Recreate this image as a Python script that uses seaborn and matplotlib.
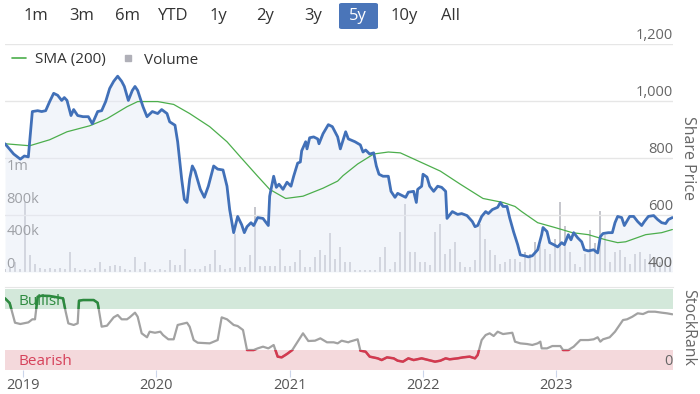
"""
Share price, SMA(200), volume and StockRank - 5y view
"""

import numpy as np
import matplotlib
matplotlib.use("Agg")
import matplotlib.pyplot as plt
from matplotlib.lines import Line2D
from matplotlib.patches import Rectangle, FancyBboxPatch
import seaborn as sns

sns.set_style("white")
plt.rcParams['font.family'] = ['Open Sans', 'DejaVu Sans']

# ===== DATA (time as decimal years) =====
price_t = [2018.865, 2018.93, 2018.98, 2019.01, 2019.04, 2019.07, 2019.11, 2019.14, 2019.17, 2019.20,
           2019.23, 2019.26, 2019.29, 2019.31, 2019.33, 2019.36, 2019.38, 2019.41, 2019.45, 2019.49,
           2019.52, 2019.56, 2019.59, 2019.62, 2019.65, 2019.68, 2019.71, 2019.74, 2019.76, 2019.79,
           2019.82, 2019.84, 2019.86, 2019.90, 2019.93, 2019.97, 2020.01, 2020.04, 2020.08, 2020.10,
           2020.14, 2020.16, 2020.19, 2020.21, 2020.23, 2020.25, 2020.27, 2020.29, 2020.33, 2020.36,
           2020.39, 2020.43, 2020.46, 2020.50, 2020.53, 2020.55, 2020.58, 2020.61, 2020.64, 2020.66,
           2020.68, 2020.71, 2020.73, 2020.76, 2020.80, 2020.84, 2020.85, 2020.88, 2020.90, 2020.92,
           2020.95, 2020.98, 2021.01, 2021.03, 2021.06, 2021.08, 2021.09, 2021.12, 2021.13, 2021.15,
           2021.18, 2021.21, 2021.22, 2021.25, 2021.29, 2021.32, 2021.36, 2021.38, 2021.42, 2021.44,
           2021.49, 2021.53, 2021.55, 2021.57, 2021.60, 2021.63, 2021.65, 2021.67, 2021.70, 2021.74,
           2021.76, 2021.79, 2021.81, 2021.87, 2021.89, 2021.93, 2021.95, 2021.96, 2021.99, 2022.00,
           2022.03, 2022.05, 2022.08, 2022.11, 2022.14, 2022.17, 2022.18, 2022.22, 2022.26, 2022.29,
           2022.33, 2022.37, 2022.39, 2022.41, 2022.44, 2022.47, 2022.49, 2022.52, 2022.56, 2022.58,
           2022.60, 2022.63, 2022.65, 2022.68, 2022.71, 2022.73, 2022.76, 2022.79, 2022.82, 2022.86,
           2022.89, 2022.90, 2022.93, 2022.95, 2022.98, 2023.01, 2023.04, 2023.06, 2023.09, 2023.11,
           2023.13, 2023.16, 2023.19, 2023.21, 2023.24, 2023.28, 2023.31, 2023.33, 2023.35, 2023.39,
           2023.42, 2023.44, 2023.46, 2023.49, 2023.51, 2023.55, 2023.58, 2023.61, 2023.64, 2023.66,
           2023.69, 2023.73, 2023.76, 2023.79, 2023.82, 2023.84, 2023.87]
price = [850, 814, 796, 807, 804, 963, 966, 963, 966, 998,
         1027, 1020, 1002, 1012, 1002, 949, 970, 949, 945, 945,
         920, 963, 966, 998, 1044, 1069, 1087, 1069, 1051, 1002,
         1037, 1051, 1037, 980, 945, 963, 956, 970, 956, 927,
         915, 857, 726, 655, 644, 726, 772, 754, 690, 662,
         701, 772, 761, 758, 701, 619, 538, 595, 566, 538,
         559, 573, 563, 591, 588, 563, 666, 736, 697, 708,
         690, 715, 701, 736, 782, 786, 825, 857, 832, 871,
         874, 867, 850, 885, 917, 910, 874, 832, 892, 867,
         857, 846, 821, 828, 814, 818, 772, 743, 736, 736,
         683, 662, 676, 662, 680, 683, 644, 690, 701, 743,
         733, 701, 683, 701, 697, 683, 588, 612, 602, 605,
         598, 577, 559, 563, 595, 612, 605, 619, 627, 644,
         630, 630, 590, 540, 496, 460, 457, 453, 457, 478,
         531, 556, 542, 503, 496, 488, 503, 496, 531, 513,
         538, 520, 506, 478, 474, 478, 467, 524, 535, 538,
         538, 573, 595, 591, 563, 595, 595, 577, 563, 577,
         595, 598, 584, 573, 570, 584, 591]

sma_t = [2018.865, 2019.05, 2019.20, 2019.33, 2019.50, 2019.63, 2019.78, 2019.86, 2020.01, 2020.13,
         2020.25, 2020.40, 2020.53, 2020.63, 2020.76, 2020.85, 2020.97, 2021.10, 2021.25, 2021.36,
         2021.40, 2021.51, 2021.63, 2021.74, 2021.83, 2021.98, 2022.13, 2022.28, 2022.45, 2022.60,
         2022.69, 2022.74, 2022.86, 2022.99, 2023.12, 2023.24, 2023.37, 2023.46, 2023.52, 2023.67,
         2023.79, 2023.87]
sma = [850, 843, 864, 892, 913, 938, 980, 998, 998, 988,
       956, 910, 857, 804, 736, 690, 658, 666, 694, 719,
       738, 779, 814, 821, 818, 786, 754, 708, 658, 644,
       630, 612, 573, 556, 538, 531, 513, 503, 506, 531,
       538, 549]

# volume in thousands, roughly fortnightly bars
volume_k = [37, 49, 122, 37, 857, 208, 98, 49, 37, 49,
            37, 49, 37, 245, 49, 24, 37, 24, 49, 122,
            37, 74, 86, 74, 37, 24, 184, 37, 122, 37,
            24, 37, 24, 147, 86, 86, 282, 37, 37, 37,
            74, 98, 269, 86, 37, 49, 465, 61, 61, 208,
            796, 74, 74, 74, 74, 282, 74, 74, 122, 269,
            61, 61, 184, 269, 208, 477, 159, 306, 122, 122,
            24, 24, 24, 24, 24, 184, 306, 37, 122, 490,
            832, 245, 245, 122, 122, 86, 490, 588, 220, 282,
            367, 122, 61, 61, 147, 588, 404, 269, 208, 98,
            122, 159, 159, 122, 245, 220, 367, 330, 282, 220,
            404, 857, 563, 245, 98, 61, 220, 514, 355, 747,
            453, 122, 245, 269, 184, 98, 220, 245, 159, 220,
            184, 122, 147, 184]
vol_t = 2018.865 + 0.0375 * np.arange(len(volume_k))

rank_t = [2018.865, 2018.90, 2018.94, 2018.98, 2019.04, 2019.07, 2019.09, 2019.11, 2019.14, 2019.20,
          2019.26, 2019.30, 2019.32, 2019.34, 2019.38, 2019.41, 2019.42, 2019.45, 2019.53, 2019.56,
          2019.59, 2019.63, 2019.68, 2019.71, 2019.74, 2019.78, 2019.80, 2019.84, 2019.86, 2019.89,
          2019.93, 2019.95, 2019.99, 2020.03, 2020.05, 2020.09, 2020.13, 2020.16, 2020.19, 2020.23,
          2020.25, 2020.28, 2020.31, 2020.40, 2020.46, 2020.49, 2020.53, 2020.58, 2020.61, 2020.65,
          2020.68, 2020.73, 2020.76, 2020.80, 2020.84, 2020.88, 2020.91, 2020.94, 2020.98, 2021.02,
          2021.06, 2021.10, 2021.14, 2021.19, 2021.23, 2021.28, 2021.33, 2021.36, 2021.39, 2021.44,
          2021.45, 2021.51, 2021.53, 2021.57, 2021.60, 2021.66, 2021.69, 2021.73, 2021.78, 2021.81,
          2021.85, 2021.89, 2021.93, 2021.99, 2022.04, 2022.09, 2022.13, 2022.17, 2022.20, 2022.26,
          2022.30, 2022.35, 2022.39, 2022.41, 2022.44, 2022.47, 2022.50, 2022.53, 2022.56, 2022.60,
          2022.67, 2022.69, 2022.73, 2022.78, 2022.82, 2022.86, 2022.88, 2022.89, 2022.93, 2022.97,
          2023.03, 2023.05, 2023.09, 2023.13, 2023.18, 2023.24, 2023.28, 2023.31, 2023.33, 2023.35,
          2023.40, 2023.44, 2023.50, 2023.53, 2023.57, 2023.61, 2023.65, 2023.69, 2023.74, 2023.79,
          2023.83, 2023.87]
stockrank = [88.5, 82.7, 58.4, 56.8, 58.8, 62.6, 62.6, 90.5, 91.7, 91.4,
             89.7, 88.5, 72, 57.6, 55.6, 57.6, 85.6, 86.4, 86.4, 83,
             53.5, 54.7, 65, 67.9, 62.6, 62.6, 65, 70.8, 65.8, 45.3,
             40.4, 47.3, 46, 47.3, 43.2, 37.9, 37.9, 55.6, 56.8, 58.4,
             53.5, 37, 33.7, 32.9, 37, 65, 62.6, 55.6, 54.3, 49.4,
             24.7, 24.7, 26.7, 28.8, 26.7, 30.9, 16.5, 15.6, 19.8, 24.7,
             35, 45.3, 35.8, 36.2, 39.1, 34.2, 34.2, 32.9, 36.2, 34.2,
             35, 37.9, 23.9, 22.6, 16.5, 14.4, 12.3, 15.6, 14.4, 11.5,
             10.3, 14.4, 12.3, 14.4, 12.3, 10.3, 11.5, 14.4, 13.2, 14.4,
             15.6, 16.5, 14.4, 18.5, 37, 43.2, 45.3, 42, 47.3, 44.4,
             46, 35, 32.9, 32.1, 30.9, 32.9, 35, 26.7, 26.7, 29.6,
             29.6, 24.7, 24.7, 28.8, 37, 37, 37.9, 40.4, 35, 37.9,
             40.4, 47.3, 61.7, 62.6, 65.8, 70, 69.1, 72, 72, 70.8,
             70, 68.8]

price_ticks = [400, 600, 800, 1000, 1200]
price_tick_labels = ['400', '600', '800', '1,000', '1,200']
vol_ticks = [0, 400, 800, 1200]
vol_tick_labels = ['0', '400k', '800k', '1m']
year_ticks = [2019, 2020, 2021, 2022, 2023]
range_buttons = ['1m', '3m', '6m', 'YTD', '1y', '2y', '3y', '5y', '10y', 'All']
selected_button = '5y'

# ===== LAYOUT (pixel boxes -> figure fractions) =====
W, H = 700, 394
fig = plt.figure(figsize=(7, 3.94), dpi=100)


def box(x0, y0, x1, y1):
    return [x0 / W, 1 - y1 / H, (x1 - x0) / W, (y1 - y0) / H]


XMIN, XMAX = 2018.865, 2023.875
TXT = '#333333'
LBL = '#666666'

ax_vol = fig.add_axes(box(5, 44, 673, 272))
ax = fig.add_axes(box(5, 44, 673, 272), sharex=ax_vol)
ax_rank = fig.add_axes(box(5, 287, 673, 370), sharex=ax_vol)
ax.patch.set_visible(False)

# volume bars (behind the price)
ax_vol.bar(vol_t, volume_k, width=0.022, color='#c6c7cd', linewidth=0)
ax_vol.set_ylim(0, 2790)
for v, lab in zip(vol_ticks, vol_tick_labels):
    ax_vol.text(0.002, v, lab, transform=ax_vol.get_yaxis_transform(),
                ha='left', va='bottom', fontsize=10.5, color=LBL)

# price + SMA
ax.fill_between(price_t, price, 400, color='#e4eaf6', alpha=0.45, linewidth=0)
sns.lineplot(x=sma_t, y=sma, ax=ax, color='#4cae4c', linewidth=0.9)
sns.lineplot(x=price_t, y=price, ax=ax, color='#4170b8', linewidth=2.0)
ax.set_ylim(400, 1200)
ax.set_yticks(price_ticks)
ax.grid(axis='y', color='#e6e6e6', linewidth=1)
ax.grid(axis='x', visible=False)
for v, lab in zip(price_ticks, price_tick_labels):
    ax.text(1.0, v + 3, lab, transform=ax.get_yaxis_transform(),
            ha='right', va='bottom', fontsize=10.5, color=LBL)

handles = [Line2D([], [], color='#4cae4c', lw=1.2),
           Line2D([], [], color='#b0b0b8', marker='s', ls='', markersize=5)]
fig.legend(handles, ['SMA (200)', 'Volume'], loc='center left',
           bbox_to_anchor=(12 / W, 1 - 60 / H), frameon=False, ncol=2,
           fontsize=11, handlelength=0.9, handletextpad=0.6, columnspacing=1.0,
           borderpad=0, borderaxespad=0, labelcolor=TXT)

# StockRank panel
ax_rank.axhspan(75, 100, color='#d3e8da', linewidth=0)
ax_rank.axhspan(0, 25, color='#f4d9dc', linewidth=0)
sns.lineplot(x=rank_t, y=stockrank, ax=ax_rank, color='#a2a2a2', linewidth=1.6)
for lo, hi, col in [(75, 110, '#2b8a3e'), (-10, 25, '#d4394f')]:
    seg, = ax_rank.plot(rank_t, stockrank, color=col, linewidth=1.8)
    seg.set_clip_path(Rectangle((XMIN, lo), XMAX - XMIN, hi - lo,
                                transform=ax_rank.transData))
ax_rank.set_ylim(0, 102.5)
ax_rank.text(0.0195, 84, 'Bullish', transform=ax_rank.get_yaxis_transform(),
             ha='left', va='center', fontsize=11, color='#2e8b40')
ax_rank.text(0.0195, 10, 'Bearish', transform=ax_rank.get_yaxis_transform(),
             ha='left', va='center', fontsize=11, color='#d6415a')
ax_rank.text(1.0, 1, '0', transform=ax_rank.get_yaxis_transform(),
             ha='right', va='bottom', fontsize=10.5, color=LBL)

# axes cosmetics
for a in (ax_vol, ax, ax_rank):
    a.set_xlim(XMIN, XMAX)
    a.set_xlabel('')
    a.set_ylabel('')
    for s in a.spines.values():
        s.set_visible(False)
    a.tick_params(left=False, right=False, labelleft=False, labelright=False)
ax_vol.set_yticks([])
ax_rank.set_yticks([])
ax.tick_params(bottom=False, labelbottom=False)
ax_vol.tick_params(bottom=False, labelbottom=False)
ax_rank.spines['top'].set_visible(True)
ax_rank.spines['top'].set_color('#e6e6e6')
ax_rank.set_xticks(year_ticks)
ax_rank.set_xticklabels([str(y) for y in year_ticks])
ax_rank.tick_params(axis='x', bottom=True, labelbottom=True, length=5,
                    color='#ccd6eb', pad=1, labelsize=10.5, labelcolor='#555555')

# axis titles on the right
fig.text(688 / W, 1 - 158 / H, 'Share Price', rotation=270, ha='center', va='center',
         fontsize=11.5, color=LBL)
fig.text(688 / W, 1 - 327 / H, 'StockRank', rotation=270, ha='center', va='center',
         fontsize=11.5, color=LBL)

# range selector buttons
btn_x = [36, 82, 127, 173, 218, 265, 313, 358, 404, 450]
for bx, lab in zip(btn_x, range_buttons):
    if lab == selected_button:
        fig.patches.append(FancyBboxPatch((339 / W, 1 - 29 / H), 39 / W, 26 / H,
                                          boxstyle='round,pad=0,rounding_size=0.004',
                                          transform=fig.transFigure, facecolor='#4a75b9',
                                          edgecolor='none'))
        fig.text(bx / W, 1 - 16 / H, lab, ha='center', va='center', fontsize=12, color='white')
    else:
        fig.text(bx / W, 1 - 16 / H, lab, ha='center', va='center', fontsize=12, color=TXT)

fig.savefig('out.png', dpi=100)
